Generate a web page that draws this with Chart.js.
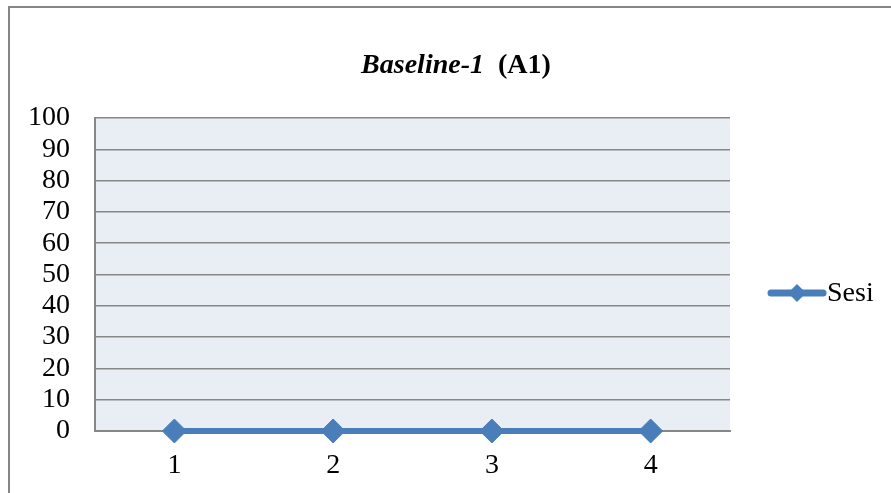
<!DOCTYPE html>
<html>
<head>
<meta charset="utf-8">
<script src="https://cdn.jsdelivr.net/npm/chart.js@4"></script>
<style>
html,body{margin:0;padding:0;background:#fff;overflow:hidden;}
#frame{position:absolute;left:8px;top:6px;width:900px;height:500px;border:2px solid #858585;box-sizing:border-box;}
#wrap{position:absolute;left:0;top:0;width:891px;height:493px;}
</style>
</head>
<body>
<div id="frame"></div>
<div id="wrap"><canvas id="c" width="891" height="493"></canvas></div>
<script>
const categories = ['1', '2', '3', '4'];
const sesiValues = [0, 0, 0, 0];
const yTicks = [0, 10, 20, 30, 40, 50, 60, 70, 80, 90, 100];
const seriesName = 'Sesi';
const titleItalic = 'Baseline-1';
const titleRest = '(A1)';

const FONT = '"Liberation Serif", "Times New Roman", serif';
const LINE = '#4A7EBB';

const bgPlugin = {
  id: 'bg',
  beforeDraw(chart) {
    const {ctx, chartArea: a} = chart;
    ctx.save();
    ctx.fillStyle = '#E9EDF4';
    ctx.fillRect(a.left, a.top, a.right - a.left, a.bottom - a.top);
    ctx.restore();
  },
  afterDraw(chart) {
    const {ctx} = chart;
    ctx.save();
    // title
    ctx.fillStyle = '#000';
    ctx.textBaseline = 'alphabetic';
    ctx.font = 'italic bold 28px ' + FONT;
    const w1 = ctx.measureText(titleItalic).width;
    ctx.font = 'bold 28px ' + FONT;
    const gap = 14;
    const w2 = ctx.measureText(titleRest).width;
    const total = w1 + gap + w2;
    const x0 = 456 - total / 2;
    ctx.font = 'italic bold 28px ' + FONT;
    ctx.textAlign = 'left';
    ctx.fillText(titleItalic, x0, 73);
    ctx.font = 'bold 28px ' + FONT;
    ctx.fillText(titleRest, x0 + w1 + gap, 73);
    // legend
    const ly = 293;
    ctx.strokeStyle = LINE;
    ctx.lineWidth = 7;
    ctx.lineCap = 'round';
    ctx.beginPath();
    ctx.moveTo(771, ly);
    ctx.lineTo(823, ly);
    ctx.stroke();
    ctx.fillStyle = LINE;
    ctx.beginPath();
    ctx.moveTo(797, ly - 9);
    ctx.lineTo(806, ly);
    ctx.lineTo(797, ly + 9);
    ctx.lineTo(788, ly);
    ctx.closePath();
    ctx.fill();
    ctx.fillStyle = '#000';
    ctx.font = '28px ' + FONT;
    ctx.textBaseline = 'middle';
    ctx.fillText(seriesName, 827, ly + 1);
    ctx.restore();
  }
};

new Chart(document.getElementById('c'), {
  type: 'line',
  data: {
    labels: categories,
    datasets: [{
      label: seriesName,
      data: sesiValues,
      borderColor: LINE,
      backgroundColor: LINE,
      borderWidth: 6,
      pointStyle: 'rectRot',
      pointRadius: 12,
      pointHoverRadius: 12,
      pointBackgroundColor: LINE,
      pointBorderColor: LINE,
      pointBorderWidth: 1,
      tension: 0,
      clip: false
    }]
  },
  options: {
    responsive: false,
    animation: false,
    devicePixelRatio: 1,
    layout: {padding: {left: 0, right: 161, top: 118, bottom: 0}},
    plugins: {legend: {display: false}, title: {display: false}, tooltip: {enabled: false}},
    scales: {
      x: {
        offset: true,
        grid: {display: false, drawTicks: false},
        border: {display: true, color: '#878787', width: 2},
        ticks: {color: '#000', font: {family: FONT, size: 28}, padding: 18, autoSkip: false, maxRotation: 0},
        afterFit(s) { s.height = 62; }
      },
      y: {
        min: 0, max: 100,
        afterBuildTicks(s) { s.ticks = yTicks.map(v => ({value: v})); },
        grid: {color: '#878787', lineWidth: 1.5, drawTicks: false},
        border: {display: true, color: '#878787', width: 2},
        ticks: {color: '#000', font: {family: FONT, size: 28, lineHeight: 1}, padding: 25, autoSkip: false},
        afterFit(s) { s.width = 95; }
      }
    }
  },
  plugins: [bgPlugin]
});
</script>
</body>
</html>
